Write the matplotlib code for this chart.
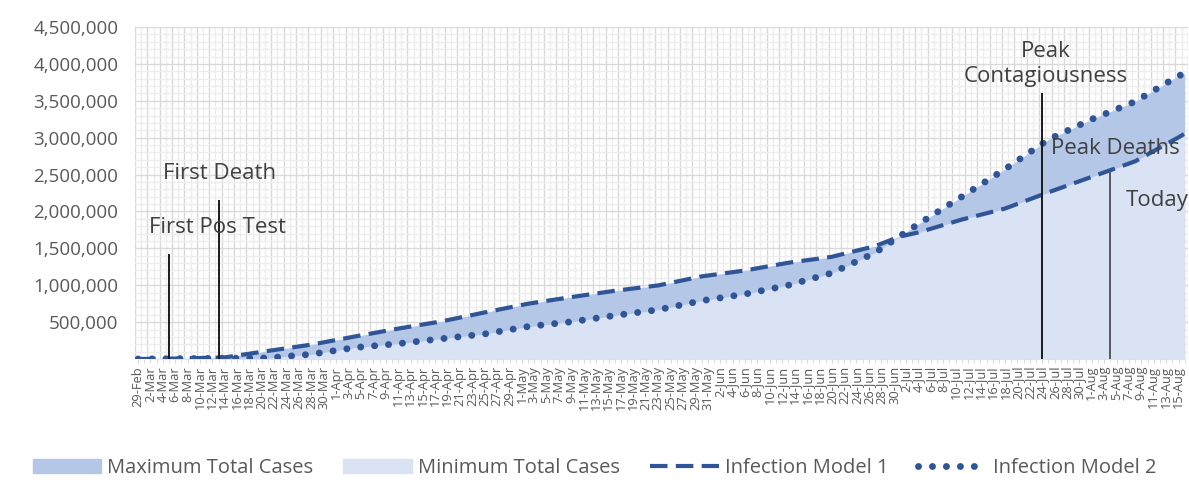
import numpy as np
import pandas as pd
import matplotlib
matplotlib.use("Agg")
from matplotlib import pyplot as plt
from matplotlib.patches import Patch
from matplotlib.lines import Line2D
from matplotlib.ticker import FuncFormatter, MultipleLocator

plt.rcParams['font.family'] = ['Open Sans', 'DejaVu Sans']

# ─── data ─────────────────────────────────────────────
START, END = "2020-02-29", "2020-08-16"

knot_dates = ["2020-02-29", "2020-03-07", "2020-03-14", "2020-03-21", "2020-03-28",
              "2020-04-04", "2020-04-11", "2020-04-18", "2020-04-25", "2020-05-02",
              "2020-05-09", "2020-05-16", "2020-05-23", "2020-05-30", "2020-06-06",
              "2020-06-13", "2020-06-20", "2020-06-27", "2020-07-01", "2020-07-04",
              "2020-07-11", "2020-07-18", "2020-07-25", "2020-08-01", "2020-08-08",
              "2020-08-15", "2020-08-16"]

# thousands of cases
model1 = [0, 8, 22, 110, 195, 305, 412, 510, 632, 750,
          840, 925, 998, 1120, 1200, 1305, 1385, 1530, 1660, 1716,
          1890, 2040, 2260, 2470, 2680, 3005, 3054]
model2 = [0, 5, 10, 14, 65, 155, 208, 275, 340, 440,
          505, 590, 668, 790, 880, 1000, 1165, 1440, 1665, 1830,
          2200, 2575, 2975, 3250, 3490, 3838, 3870]

event_names = ["First Pos Test", "First Death", "Peak\nContagiousness", "Peak Deaths"]
event_dates = ["2020-03-05", "2020-03-13", "2020-07-24", "2020-08-04"]
event_tops = [1430, 2160, 3610, 2550]

# ─── prep ─────────────────────────────────────────────
days = pd.date_range(START, END, freq="D")
start = pd.Timestamp(START)
kx = np.array([(pd.Timestamp(d) - start).days for d in knot_dates])
m1 = np.array(model1) * 1000
m2 = np.array(model2) * 1000
ex = [(pd.Timestamp(d) - start).days for d in event_dates]
labels = [f"{d.day}-{d.strftime('%b')}" for d in days]

LINE = "#2F5597"
DARK = "#B4C7E7"
LIGHT = "#DAE3F3"
TXT = "#595959"
ANN = "#404040"

DASH = dict(lw=3.0, ls=(0, (4.2, 2.0)))
DOTS = dict(lw=5.0, ls=(0, (0.01, 2.0)), dash_capstyle="round")

fig = plt.figure(figsize=(11.89, 4.83), dpi=100)
ax = fig.add_axes([0.1135, 0.2567, 0.8855, 0.6873])

ax.fill_between(kx, 0, np.maximum(m1, m2), color=DARK, lw=0, zorder=2)
ax.fill_between(kx, 0, np.minimum(m1, m2), color=LIGHT, lw=0, zorder=3)
ax.plot(kx, m1, color=LINE, zorder=5, **DASH)
ax.plot(kx, m2, color=LINE, zorder=5, **DOTS)

# event markers
ev_cols = ["#1a1a1a", "#1a1a1a", "#1a1a1a", "#595959"]
for x, top, c in zip(ex, event_tops, ev_cols):
    ax.vlines(x, 0, top * 1000, color=c, lw=1.4, zorder=6)

fs_ann = 16
ax.text(12.9, 1.78e6, event_names[0], ha="center", va="center", fontsize=fs_ann, color=ANN, zorder=7)
ax.text(13.1, 2.51e6, event_names[1], ha="center", va="center", fontsize=fs_ann, color=ANN, zorder=7)
ax.text(146.6, 4.0e6, event_names[2], ha="center", va="center", fontsize=fs_ann, color=ANN,
        linespacing=1.25, zorder=7)
ax.text(157.8, 2.86e6, event_names[3], ha="center", va="center", fontsize=fs_ann, color=ANN, zorder=7)
ax.text(159.4, 2.15e6, "Today", ha="left", va="center", fontsize=fs_ann, color=ANN, zorder=7)

# axes
ax.set_xlim(-0.5, len(days) - 0.5)
ax.set_ylim(0, 4.5e6)
ax.set_xticks(np.arange(0, len(days), 2))
ax.set_xticklabels(labels[::2], rotation=90, fontsize=9.3, color=TXT)
ax.set_xticks(np.arange(len(days)), minor=True)
ax.tick_params(axis="x", which="both", length=3, color="#D9D9D9", pad=2)

ax.set_yticks(np.arange(500000, 4500001, 500000))
ax.yaxis.set_major_formatter(FuncFormatter(lambda v, p: f"{v:,.0f}"))
ax.yaxis.set_minor_locator(MultipleLocator(100000))
ax.tick_params(axis="y", which="both", length=0, labelsize=13.5, labelcolor=TXT, pad=12)

# grid (drawn manually: categories sit between gridlines)
for gx in np.arange(-0.5, len(days), 2):
    ax.axvline(gx, color="#D9D9D9", lw=1.0, zorder=0)
for gx in np.arange(0.5, len(days), 2):
    ax.axvline(gx, color="#EDEDED", lw=1.0, zorder=0)
for gy in np.arange(0, 4500001, 100000):
    major = gy % 500000 == 0
    ax.axhline(gy, color="#D9D9D9" if major else "#EDEDED", lw=1.0, zorder=1 if major else 0)

for s in ax.spines.values():
    s.set_visible(False)

handles = [Patch(color=DARK), Patch(color=LIGHT),
           Line2D([], [], color=LINE, **DASH),
           Line2D([], [], color=LINE, **DOTS)]
names = ["Maximum Total Cases", "Minimum Total Cases", "Infection Model 1", "Infection Model 2"]
leg = fig.legend(handles, names, loc="center", bbox_to_anchor=(0.5, 0.031), ncol=4,
                 frameon=False, fontsize=14.5, handlelength=3.4, handleheight=0.75,
                 columnspacing=1.5, handletextpad=0.3)
for t in leg.get_texts():
    t.set_color(TXT)

fig.savefig("out.png", dpi=100)
